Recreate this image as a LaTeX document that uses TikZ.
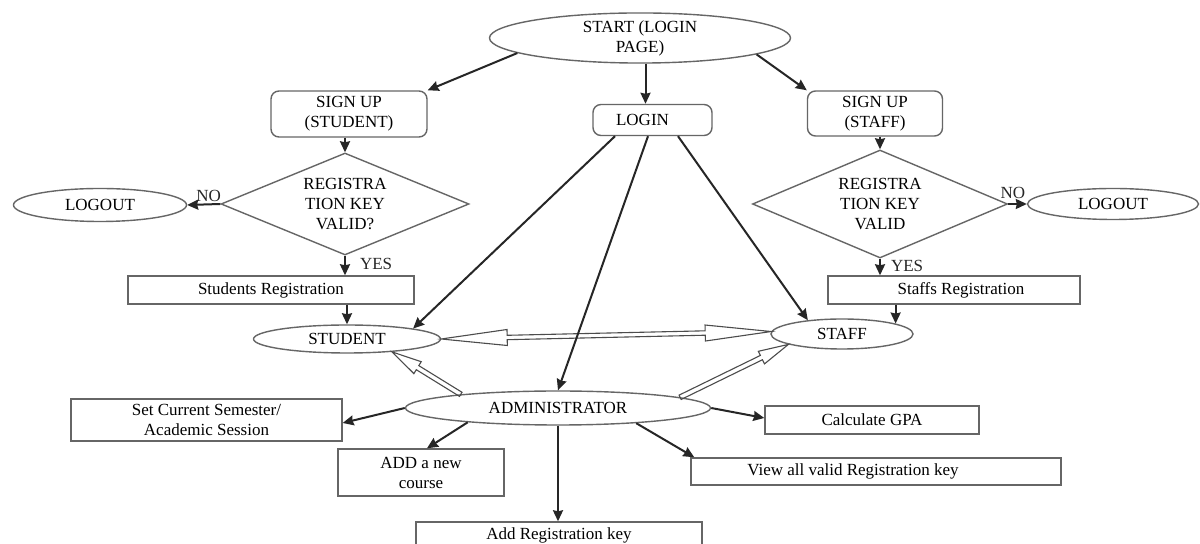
\documentclass[tikz,border=0pt]{standalone}
\usepackage{fontspec}
\setmainfont{Liberation Serif}
\usetikzlibrary{shapes.geometric,arrows.meta,calc}
\tikzset{
  base/.style={draw=black!60, line width=0.7pt, inner sep=0pt, align=center,
    font=\fontsize{8.5pt}{10pt}\selectfont},
  oval/.style={base, ellipse},
  rbox/.style={base, rectangle, rounded corners=4pt},
  sbox/.style={base, rectangle},
  dia/.style={base, diamond},
  arr/.style={line width=1pt, black!85, -{Stealth[length=5.5pt,width=5pt,inset=0.5pt]}},
  hollow/.style={draw=black!70, line width=0.55pt, line join=miter},
  lbl/.style={font=\fontsize{8.5pt}{10pt}\selectfont, inner sep=1pt}
}
\newcommand\hollowarrow[5]{%
  \coordinate (hb) at ($(#2)!#3!(#1)$);
  \draw[hollow] ($(#1)!#5!90:(#2)$) -- ($(hb)!#5!-90:(#1)$) -- ($(hb)!#4!-90:(#1)$)
    -- (#2) -- ($(hb)!#4!90:(#1)$) -- ($(hb)!#5!90:(#1)$) -- ($(#1)!#5!-90:(#2)$) -- cycle;}
\begin{document}
\begin{tikzpicture}[x=0.5pt,y=-0.5pt]
\fill[white] (0,0) rectangle (1200,544);
\useasboundingbox (0,0) rectangle (1200,544);

% nodes
\node[oval, minimum width=150.5pt, minimum height=25pt] (start) at (640,38) {\raisebox{-2pt}{START (LOGIN}\\\raisebox{-2pt}{PAGE)}};
\node[rbox, minimum width=78pt, minimum height=23pt] (sus) at (349,114) {SIGN UP\\(STUDENT)};
\node[rbox, minimum width=59.5pt, minimum height=15.5pt] (login) at (652.5,120) {\hspace*{-10pt}LOGIN};
\node[rbox, minimum width=67.5pt, minimum height=22.5pt] (sst) at (875,113.5) {SIGN UP\\(STAFF)};

\node[dia, minimum width=124pt, minimum height=51pt, shape aspect=2.43] (d1) at (345,204) {REGISTRA\\TION KEY\\VALID?};
\node[oval, minimum width=86.5pt, minimum height=16.5pt] (lo1) at (100,205) {LOGOUT};
\node[dia, minimum width=127.5pt, minimum height=54pt, shape aspect=2.36] (d2) at (880,204) {REGISTRA\\TION KEY\\VALID};
\node[oval, minimum width=85.5pt, minimum height=15.5pt] (lo2) at (1113,204) {LOGOUT};

\node[sbox, minimum width=143pt, minimum height=14pt] (sreg) at (271,290) {Students Registration};
\node[sbox, minimum width=126pt, minimum height=14pt] (streg) at (954,290) {\hspace*{7pt}Staffs Registration};

\node[oval, minimum width=93.5pt, minimum height=14pt] (student) at (347,339) {STUDENT};
\node[oval, minimum width=71pt, minimum height=15pt] (staff) at (842,334) {STAFF};
\node[oval, minimum width=152.5pt, minimum height=17pt] (admin) at (558,408) {ADMINISTRATOR};

\node[sbox, minimum width=135.5pt, minimum height=21pt] (sem) at (206.5,420) {Set Current Semester/\\Academic Session};
\node[sbox, minimum width=83pt, minimum height=23.5pt] (course) at (421,472.5) {ADD a new\\course};
\node[sbox, minimum width=107pt, minimum height=14pt] (gpa) at (872,420) {Calculate GPA};
\node[sbox, minimum width=185pt, minimum height=13.5pt] (view) at (876,471.5) {\hspace*{-23pt}View all valid Registration key};
\node[sbox, minimum width=143pt, minimum height=13pt] (addkey) at (559,535) {Add Registration key};

% hollow arrows
\hollowarrow{admin.172}{student.344}{15pt}{3.5pt}{1.2pt}
\hollowarrow{admin.5}{staff.191}{15pt}{3.5pt}{1.2pt}
\coordinate (t1) at (student.east);
\coordinate (t2) at (staff.178);
\coordinate (hb1) at ($(t1)!33pt!(t2)$);
\coordinate (hb2) at ($(t2)!33pt!(t1)$);
\draw[hollow] (t1) -- ($(hb1)!4pt!90:(t2)$) -- ($(hb1)!1.1pt!90:(t2)$)
  -- ($(hb2)!1.1pt!-90:(t1)$) -- ($(hb2)!4pt!-90:(t1)$) -- (t2)
  -- ($(hb2)!4pt!90:(t1)$) -- ($(hb2)!1.1pt!90:(t1)$)
  -- ($(hb1)!1.1pt!-90:(t2)$) -- ($(hb1)!4pt!-90:(t2)$) -- cycle;

% connectors from start
\draw[arr] (start.187) -- (sus.north east);
\coordinate (lt) at ([xshift=-3.5pt]login.north);
\draw[arr] (lt |- start.south) -- (lt);
\draw[arr] (start.352) -- (sst.north west);

% student side
\draw[arr] (d1.north |- sus.south) -- (d1.north);
\draw[arr] (d1.west) -- node[lbl, above, pos=0.35] {NO} (lo1.east);
\draw[arr] (d1.south) -- node[lbl, right, pos=0.4, xshift=6pt] {YES} (d1.south |- sreg.north);
\draw[arr] (student.north |- sreg.south) -- (student.north);

% staff side
\draw[arr] (d2.north |- sst.south) -- (d2.north);
\draw[arr] (d2.east) -- node[lbl, above, pos=0.25, yshift=1pt] {NO} (lo2.west);
\draw[arr] (d2.south) -- node[lbl, right, pos=0.45, xshift=4pt] {YES} (d2.south |- streg.north);
\draw[arr] (staff.11.5 |- streg.south) -- (staff.11.5);

% login lines
\draw[arr] ([xshift=-18.75pt]login.south) -- (student.9);
\draw[arr] ([xshift=-2.25pt]login.south) -- (admin.north);
\draw[arr] ([xshift=12.75pt]login.south) -- (staff.158);

% administrator
\draw[arr] (admin.west) -- ([yshift=-1.5pt]sem.east);
\draw[arr] (admin.189) -- ([xshift=3pt]course.north);
\draw[arr] (admin.south) -- (admin.south |- addkey.north);
\draw[arr] (admin.east) -- ([yshift=1pt]gpa.west);
\draw[arr] (admin.349) -- ([xshift=2pt]view.north west);
\end{tikzpicture}
\end{document}
